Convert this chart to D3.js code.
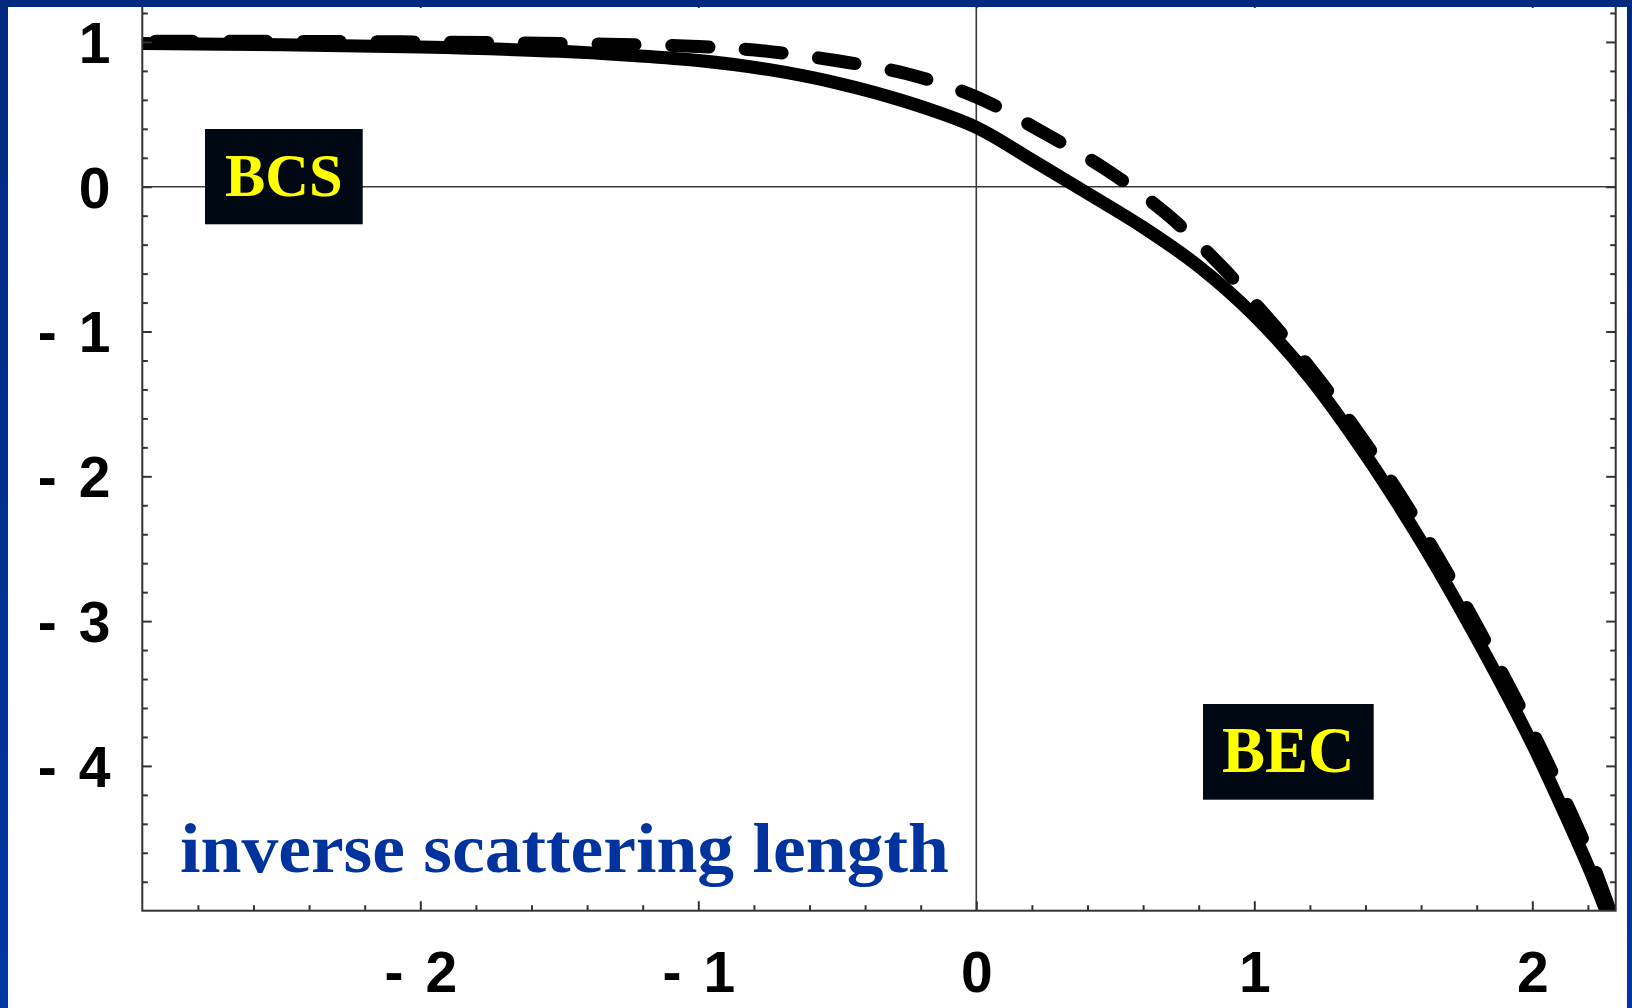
<!DOCTYPE html>
<html>
<head>
<meta charset="utf-8">
<script src="https://cdn.jsdelivr.net/npm/d3@7"></script>
<style>
  html, body { margin: 0; padding: 0; background: #ffffff; }
  svg { display: block; }
</style>
</head>
<body>
<svg id="chart" width="1632" height="1008"></svg>
<script>
// Chemical potential across the BCS–BEC crossover versus inverse scattering length

// Solid curve
const solidX = [-3.0, -2.5, -2.0, -1.5, -1.25, -1.0, -0.75, -0.5, -0.25, 0.0, 0.2, 0.4, 0.6, 0.8, 1.0, 1.2, 1.4, 1.6, 1.8, 2.0, 2.1, 2.2, 2.265];
const solidY = [0.99, 0.98, 0.965, 0.935, 0.908, 0.872, 0.81, 0.716, 0.585, 0.41, 0.185, -0.045, -0.28, -0.55, -0.89, -1.32, -1.85, -2.45, -3.12, -3.85, -4.26, -4.69, -5.0];

// Dashed curve
const dashedX = [-3.0, -2.5, -2.0, -1.5, -1.0, -0.75, -0.5, -0.25, 0.0, 0.24, 0.47, 0.685, 0.877, 1.0, 1.2, 1.4, 1.6, 1.8, 2.0, 2.1, 2.2, 2.28];
const dashedY = [1.005, 1.004, 1.0, 0.99, 0.968, 0.935, 0.87, 0.78, 0.62, 0.375, 0.115, -0.188, -0.54, -0.8, -1.25, -1.77, -2.36, -3.03, -3.76, -4.16, -4.59, -5.0];

// Axes
const xDomain = [-3, 2.3];
const yDomain = [-5, 1.3];
const xTicks = [-2, -1, 0, 1, 2];
const yTicks = [-4, -3, -2, -1, 0, 1];
const minorStep = 0.2;

// Annotations
const regionLabels = ["BCS", "BEC"];
const axisTitle = "inverse scattering length";

(function draw() {
  const W = 1632, H = 1008;
  const pL = 142.3, pR = 1615.7, pT = -1.5, pB = 910.7;

  const svg = d3.select("#chart");
  const defs = svg.append("defs");

  const grad = defs.append("linearGradient")
    .attr("id", "frameGrad").attr("x1", 0).attr("y1", 0).attr("x2", 0).attr("y2", 1);
  grad.append("stop").attr("offset", "0%").attr("stop-color", "#002a7e");
  grad.append("stop").attr("offset", "100%").attr("stop-color", "#0036a4");

  defs.append("clipPath").attr("id", "plotClip")
    .append("rect")
    .attr("x", pL).attr("y", pT)
    .attr("width", pR - pL).attr("height", pB - pT);

  svg.append("rect").attr("width", W).attr("height", H).attr("fill", "#ffffff");

  const x = d3.scaleLinear().domain(xDomain).range([pL, pR]);
  const y = d3.scaleLinear().domain(yDomain).range([pB, pT]);

  const isMinor = v => Math.abs(v - Math.round(v)) > 1e-6;
  const xMinor = d3.range(Math.ceil(xDomain[0] / minorStep), Math.floor(xDomain[1] / minorStep) + 1)
    .map(i => +(i * minorStep).toFixed(3)).filter(isMinor);
  const yMinor = d3.range(Math.ceil(yDomain[0] / minorStep), Math.floor(yDomain[1] / minorStep) + 1)
    .map(i => +(i * minorStep).toFixed(3)).filter(isMinor);

  // Zero lines
  svg.append("line")
    .attr("x1", pL).attr("x2", pR)
    .attr("y1", y(0)).attr("y2", y(0))
    .attr("stroke", "#3a3a3a").attr("stroke-width", 1.6);
  svg.append("line")
    .attr("x1", x(0)).attr("x2", x(0))
    .attr("y1", pT).attr("y2", pB)
    .attr("stroke", "#3a3a3a").attr("stroke-width", 1.6);

  // Curves
  const line = d3.line()
    .x(d => x(d[0]))
    .y(d => y(d[1]))
    .curve(d3.curveCatmullRom.alpha(0.5));

  const curves = svg.append("g").attr("clip-path", "url(#plotClip)");

  curves.append("path")
    .datum(dashedX.map((v, i) => [v, dashedY[i]]))
    .attr("d", line)
    .attr("fill", "none")
    .attr("stroke", "#000000")
    .attr("stroke-width", 13)
    .attr("stroke-linecap", "round")
    .attr("stroke-linejoin", "round")
    .attr("stroke-dasharray", "37 36.7")
    .attr("stroke-dashoffset", 60.2);

  curves.append("path")
    .datum(solidX.map((v, i) => [v, solidY[i]]))
    .attr("d", line)
    .attr("fill", "none")
    .attr("stroke", "#000000")
    .attr("stroke-width", 13)
    .attr("stroke-linejoin", "round");

  // Region boxes
  const boxes = [
    { label: regionLabels[0], x: 205, y: 129, w: 157.7, h: 95.3, size: 60.5, base: 196 },
    { label: regionLabels[1], x: 1203, y: 704, w: 170.7, h: 95.7, size: 64.5, base: 772 }
  ];
  const boxG = svg.append("g");
  boxG.selectAll("rect").data(boxes).join("rect")
    .attr("x", d => d.x).attr("y", d => d.y)
    .attr("width", d => d.w).attr("height", d => d.h)
    .attr("fill", "#000814");
  boxG.selectAll("text").data(boxes).join("text")
    .attr("x", d => d.x + d.w / 2)
    .attr("y", d => d.base)
    .attr("text-anchor", "middle")
    .attr("font-family", "'Liberation Serif', 'Times New Roman', serif")
    .attr("font-weight", "bold")
    .attr("font-size", d => d.size)
    .attr("fill", "#ffff00")
    .text(d => d.label);

  // Axis title inside the plot
  svg.append("text")
    .attr("x", 180).attr("y", 872.3)
    .attr("font-family", "'Liberation Serif', 'Times New Roman', serif")
    .attr("font-weight", "bold")
    .attr("font-size", 70)
    .attr("textLength", 769)
    .attr("lengthAdjust", "spacingAndGlyphs")
    .attr("fill", "#00339e")
    .text(axisTitle);

  // Axes: major and minor ticks pointing inward on all four sides
  const tickColor = "#333333";
  const labelFont = "'Liberation Sans', Arial, sans-serif";

  function styleAxis(g) {
    g.select(".domain").remove();
    g.selectAll(".tick line").attr("stroke", tickColor).attr("stroke-width", 2);
  }

  function splitMinus(g) {
    g.selectAll(".tick text").each(function (d) {
      if (d < 0) {
        const t = d3.select(this);
        t.text(null);
        t.append("tspan").text("-");
        t.append("tspan").attr("dx", 22).text(Math.abs(d));
      }
    });
  }

  const fmt = d => String(d);

  // Left
  const gLeft = svg.append("g").attr("transform", `translate(${pL},0)`)
    .call(d3.axisLeft(y).tickValues(yTicks).tickSizeInner(-9.5).tickSizeOuter(0).tickPadding(31.8).tickFormat(fmt));
  styleAxis(gLeft);
  gLeft.selectAll(".tick text")
    .attr("dy", "0.358em")
    .attr("font-family", labelFont).attr("font-weight", "bold").attr("font-size", 57).attr("fill", "#000");
  splitMinus(gLeft);
  const gLeftMinor = svg.append("g").attr("transform", `translate(${pL},0)`)
    .call(d3.axisLeft(y).tickValues(yMinor).tickSizeInner(-5.5).tickSizeOuter(0).tickFormat(""));
  styleAxis(gLeftMinor);

  // Bottom
  const gBottom = svg.append("g").attr("transform", `translate(0,${pB})`)
    .call(d3.axisBottom(x).tickValues(xTicks).tickSizeInner(-9.5).tickSizeOuter(0).tickPadding(40.8).tickFormat(fmt));
  styleAxis(gBottom);
  gBottom.selectAll(".tick text")
    .attr("font-family", labelFont).attr("font-weight", "bold").attr("font-size", 57).attr("fill", "#000");
  splitMinus(gBottom);
  const gBottomMinor = svg.append("g").attr("transform", `translate(0,${pB})`)
    .call(d3.axisBottom(x).tickValues(xMinor).tickSizeInner(-5.5).tickSizeOuter(0).tickFormat(""));
  styleAxis(gBottomMinor);

  // Right
  const gRight = svg.append("g").attr("transform", `translate(${pR},0)`)
    .call(d3.axisRight(y).tickValues(yTicks).tickSizeInner(-9.5).tickSizeOuter(0).tickFormat(""));
  styleAxis(gRight);
  const gRightMinor = svg.append("g").attr("transform", `translate(${pR},0)`)
    .call(d3.axisRight(y).tickValues(yMinor).tickSizeInner(-5.5).tickSizeOuter(0).tickFormat(""));
  styleAxis(gRightMinor);

  // Top
  const gTop = svg.append("g").attr("transform", `translate(0,${pT})`)
    .call(d3.axisTop(x).tickValues(xTicks).tickSizeInner(-9.5).tickSizeOuter(0).tickFormat(""));
  styleAxis(gTop);
  const gTopMinor = svg.append("g").attr("transform", `translate(0,${pT})`)
    .call(d3.axisTop(x).tickValues(xMinor).tickSizeInner(-5.5).tickSizeOuter(0).tickFormat(""));
  styleAxis(gTopMinor);

  // Plot frame
  svg.append("rect")
    .attr("x", pL).attr("y", pT)
    .attr("width", pR - pL).attr("height", pB - pT)
    .attr("fill", "none")
    .attr("stroke", tickColor)
    .attr("stroke-width", 2);

  // Slide border
  svg.append("path")
    .attr("fill-rule", "evenodd")
    .attr("fill", "url(#frameGrad)")
    .attr("d", `M0,0H${W}V${H}H0Z M8,7V${H}H1627V7Z`);
})();
</script>
</body>
</html>
